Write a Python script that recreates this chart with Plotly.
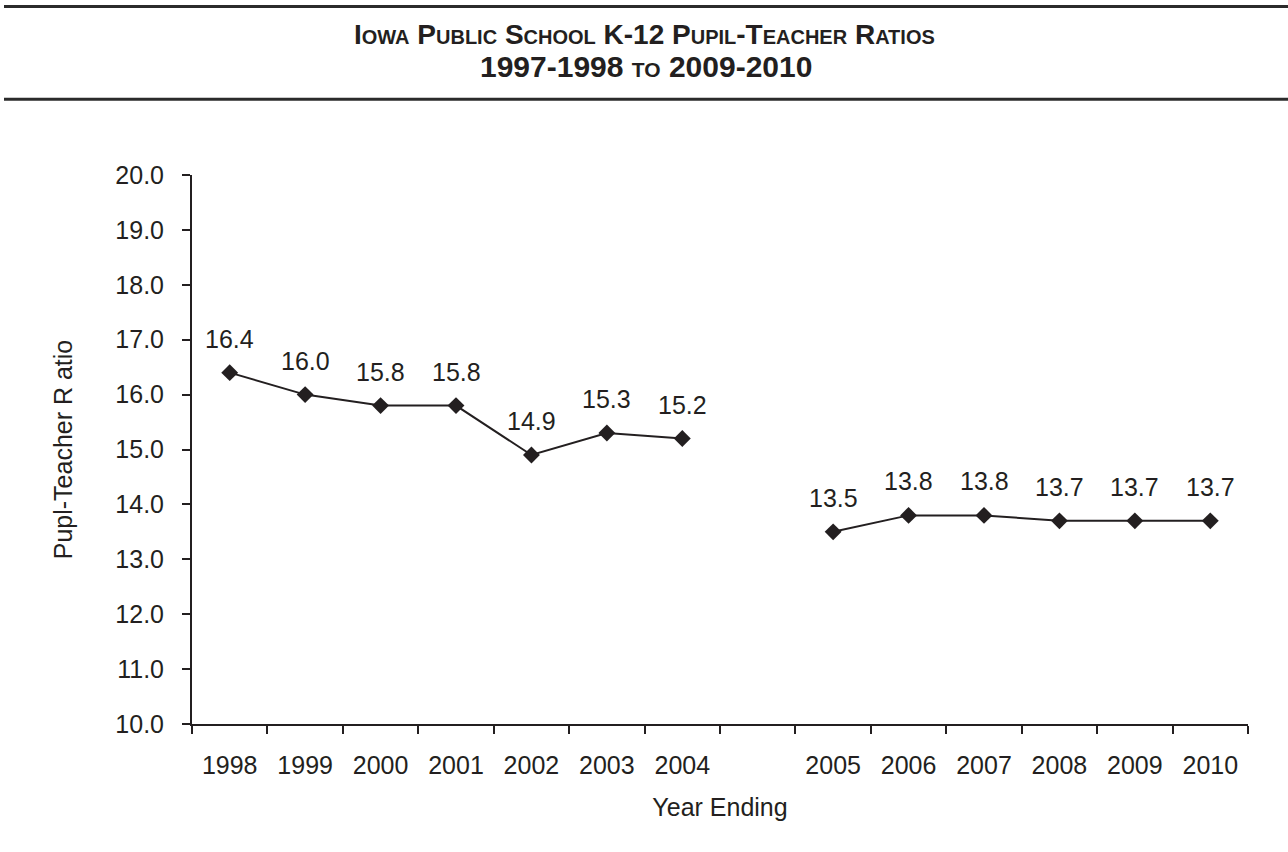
import plotly.graph_objects as go

# Data
years = ["1998", "1999", "2000", "2001", "2002", "2003", "2004", " ",
         "2005", "2006", "2007", "2008", "2009", "2010"]
ratios = [16.4, 16.0, 15.8, 15.8, 14.9, 15.3, 15.2, None,
          13.5, 13.8, 13.8, 13.7, 13.7, 13.7]
y_ticks = [10, 11, 12, 13, 14, 15, 16, 17, 18, 19, 20]
title_line1 = "Iowa Public School K-12 Pupil-Teacher Ratios"
title_line2 = "1997-1998 to 2009-2010"

INK = "#231f20"
FONT = "Liberation Sans, Arial, Helvetica, sans-serif"
FS = 25

# plot area in pixels (page): x 192..1248, y 175..724
L, R, T, B = 192, 40, 175, 128
PW, PH = 1288 - L - R, 852 - T - B


def px_x(x):
    return (x - L) / PW


def px_y(y):
    return (852 - B - y) / PH


fig = go.Figure()
fig.add_trace(go.Scatter(
    x=years, y=ratios, mode="lines+markers",
    connectgaps=False,
    line=dict(color=INK, width=2),
    marker=dict(symbol="diamond", size=13, color=INK),
    hoverinfo="skip", showlegend=False,
))

for i, yv in enumerate(ratios):
    if yv is None:
        continue
    fig.add_annotation(x=i, y=yv, xref="x", yref="y", text=f"{yv:.1f}",
                       showarrow=False, yshift=34,
                       font=dict(family=FONT, size=FS, color=INK))

# Title lines
fig.add_annotation(x=px_x(644), y=px_y(34.5), xref="paper", yref="paper",
                   text=title_line1, showarrow=False,
                   xanchor="center", yanchor="middle",
                   font=dict(family=FONT, size=28, color=INK, weight="bold",
                             variant="small-caps"))
fig.add_annotation(x=px_x(646), y=px_y(66), xref="paper", yref="paper",
                   text=title_line2, showarrow=False,
                   xanchor="center", yanchor="middle",
                   font=dict(family=FONT, size=30, color=INK, weight="bold",
                             variant="small-caps"))

fig.update_layout(
    width=1288, height=852,
    paper_bgcolor="white", plot_bgcolor="white",
    margin=dict(l=L, r=R, t=T, b=B),
    font=dict(family=FONT, size=FS, color=INK),
    xaxis=dict(
        type="category", categoryorder="array", categoryarray=years,
        range=[-0.5, len(years) - 0.5],
        tickson="boundaries", ticks="outside", ticklen=8, tickwidth=2, tickcolor=INK,
        showline=True, linecolor=INK, linewidth=2,
        showgrid=False, zeroline=False,
        title=dict(text="Year Ending", standoff=20, font=dict(size=FS)),
        tickfont=dict(size=FS),
        ticklabelstandoff=18,
    ),
    yaxis=dict(
        range=[10, 20], tickvals=y_ticks, tickformat=".1f",
        ticks="outside", ticklen=8, tickwidth=2, tickcolor=INK,
        showline=True, linecolor=INK, linewidth=2,
        showgrid=False, zeroline=False,
        title=dict(text="Pupl-Teacher R atio", standoff=36, font=dict(size=FS)),
        tickfont=dict(size=FS),
        ticklabelstandoff=13,
    ),
    shapes=[
        dict(type="line", xref="paper", yref="paper",
             x0=px_x(4), x1=px_x(1288), y0=px_y(6.5), y1=px_y(6.5),
             line=dict(color="#2b2b2b", width=3)),
        dict(type="line", xref="paper", yref="paper",
             x0=px_x(4), x1=px_x(1288), y0=px_y(99.3), y1=px_y(99.3),
             line=dict(color="#2b2b2b", width=3)),
    ],
)

fig.write_html("out.html",
               config={"displayModeBar": False, "staticPlot": True},
               post_script="document.body.style.margin='0';document.body.style.overflow='hidden';")
